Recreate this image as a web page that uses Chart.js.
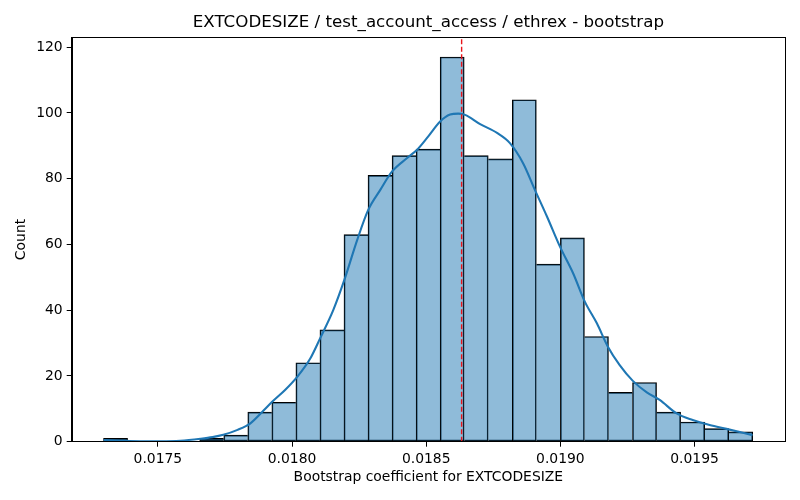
<!DOCTYPE html>
<html>
<head>
<meta charset="utf-8">
<script src="https://cdn.jsdelivr.net/npm/chart.js@4/dist/chart.umd.min.js"></script>
<style>
  html, body { margin: 0; padding: 0; background: #fff; }
  #wrap { width: 800px; height: 500px; }
</style>
</head>
<body>
<div id="wrap"><canvas id="hist"></canvas></div>
<script>
// histogram bins (centres) and counts
const binCenters = [
    0.0173424, 0.0174320, 0.0175216, 0.0176112, 0.0177008, 0.0177904, 0.0178800,
    0.0179696, 0.0180592, 0.0181488, 0.0182384, 0.0183280, 0.0184176, 0.0185072,
    0.0185968, 0.0186864, 0.0187760, 0.0188656, 0.0189552, 0.0190448, 0.0191344,
    0.0192240, 0.0193136, 0.0194032, 0.0194928, 0.0195824, 0.0196720
]
const binCounts = [
    1, 0, 0, 0, 1, 2, 9,
    12, 24, 34, 63, 81, 87, 89,
    117, 87, 86, 104, 54, 62, 32,
    15, 18, 9, 6, 4, 3
]

// kde curve
const kdeX = [
    0.017298, 0.017361, 0.017436, 0.017510, 0.017584, 0.017659, 0.017704, 0.017744,
    0.017797, 0.017845, 0.017893, 0.017927, 0.017975, 0.018020, 0.018068, 0.018105,
    0.018154, 0.018195, 0.018243, 0.018284, 0.018329, 0.018373, 0.018429, 0.018466,
    0.018507, 0.018552, 0.018589, 0.018619, 0.018645, 0.018701, 0.018764, 0.018812,
    0.018861, 0.018905, 0.018950, 0.018998, 0.019047, 0.019091, 0.019136, 0.019177,
    0.019221, 0.019270, 0.019322, 0.019370, 0.019433, 0.019493, 0.019556, 0.019619,
    0.019716
]
const kdeY = [
    0.5, 0.3, 0.15, 0.15, 0.3, 0.9, 1.4, 2.1,
    3.6, 5.6, 9.4, 12.2, 15.8, 19.8, 25.3, 31.5,
    40.1, 49.2, 61.4, 70.5, 76.6, 82.2, 86.3, 88.8,
    92.8, 97.4, 99.5, 99.8, 99.4, 96.6, 93.9, 90.8,
    84.7, 76.6, 68.5, 59.4, 51.3, 42.6, 36.0, 28.9,
    23.3, 18.5, 15.0, 12.7, 8.6, 6.6, 5.1, 3.9,
    2.0
]

const markerX = 0.018632
const xTicks = [0.0175, 0.0180, 0.0185, 0.0190, 0.0195]
const yTicks = [0, 20, 40, 60, 80, 100, 120]

const chartTitle = "EXTCODESIZE / test_account_access / ethrex - bootstrap"
const xLabel = "Bootstrap coefficient for EXTCODESIZE"
const yLabel = "Count"

Chart.defaults.font.family = "'DejaVu Sans', sans-serif"
Chart.defaults.color = "#000"

// matplotlib-like box around the axes, title centred over the axes
const frame = {
    id: "frame",
    afterDraw(chart) {
        const a = chart.chartArea
        const ctx = chart.ctx
        ctx.save()
        ctx.strokeStyle = "#000"
        ctx.lineWidth = 1
        ctx.strokeRect(Math.round(a.left) + 0.5, Math.round(a.top) + 0.5,
            Math.round(a.right - a.left), Math.round(a.bottom - a.top))
        ctx.fillStyle = "#000"
        ctx.font = "16.7px 'DejaVu Sans', sans-serif"
        ctx.textAlign = "center"
        ctx.textBaseline = "middle"
        ctx.fillText(chartTitle, (a.left + a.right) / 2, 23)
        ctx.restore()
    }
}

// each shared edge is stroked once, by the taller of the two bars
function edges(c) {
    const i = c.dataIndex
    const cur = binCounts[i]
    const prev = i > 0 ? binCounts[i - 1] : -1
    const next = i < binCounts.length - 1 ? binCounts[i + 1] : -1
    return { top: 1, bottom: 1, left: prev <= cur ? 1 : 0, right: next < cur ? 1 : 0 }
}

new Chart(document.getElementById("hist"), {
    type: "bar",
    data: {
        datasets: [
            {
                type: "line",
                data: [{ x: markerX, y: 0 }, { x: markerX, y: 123 }],
                borderColor: "#e8141a",
                borderWidth: 1.4,
                borderDash: [5, 2.5],
                pointRadius: 0,
                order: 1,
            },
            {
                type: "line",
                data: kdeX.map((x, i) => ({ x: x, y: kdeY[i] })),
                borderColor: "#1f77b4",
                borderWidth: 2.1,
                tension: 0.4,
                cubicInterpolationMode: "monotone",
                pointRadius: 0,
                order: 2,
            },
            {
                data: binCenters.map((x, i) => ({ x: x, y: binCounts[i] })),
                backgroundColor: "rgba(31,119,180,0.5)",
                borderColor: "#000",
                borderWidth: edges,
                borderSkipped: false,
                barPercentage: 1,
                categoryPercentage: 1,
                order: 3,
            },
        ],
    },
    options: {
        responsive: true,
        maintainAspectRatio: false,
        animation: false,
        layout: { padding: { left: 0, right: 15, top: 37.3, bottom: 0 } },
        plugins: {
            legend: { display: false },
            tooltip: { enabled: false },
            title: { display: false },
        },
        scales: {
            x: {
                type: "linear",
                min: 0.017179,
                max: 0.019837,
                offset: false,
                grid: { display: true, offset: false, drawOnChartArea: false, drawTicks: true, tickLength: 5, color: "#000" },
                border: { display: true, color: "#000" },
                afterBuildTicks: (s) => { s.ticks = xTicks.map(v => ({ value: v })) },
                ticks: {
                    font: { size: 13.9 },
                    padding: 4,
                    maxRotation: 0,
                    callback: (v) => v.toFixed(4),
                },
                title: {
                    display: true,
                    text: xLabel,
                    font: { size: 13.9 },
                    padding: { top: 0, bottom: 14.7 },
                },
                afterFit: (s) => { s.height = 58.3 },
            },
            y: {
                min: 0,
                max: 123,
                grid: { display: true, drawOnChartArea: false, drawTicks: true, tickLength: 5, color: "#000" },
                border: { display: true, color: "#000" },
                afterBuildTicks: (s) => { s.ticks = yTicks.map(v => ({ value: v })) },
                ticks: { font: { size: 13.9 }, padding: 4 },
                title: {
                    display: true,
                    text: yLabel,
                    font: { size: 13.9 },
                    padding: { top: 12.7, bottom: 0 },
                },
                afterFit: (s) => { s.width = 71.7 },
            },
        },
    },
    plugins: [frame],
})
</script>
</body>
</html>
